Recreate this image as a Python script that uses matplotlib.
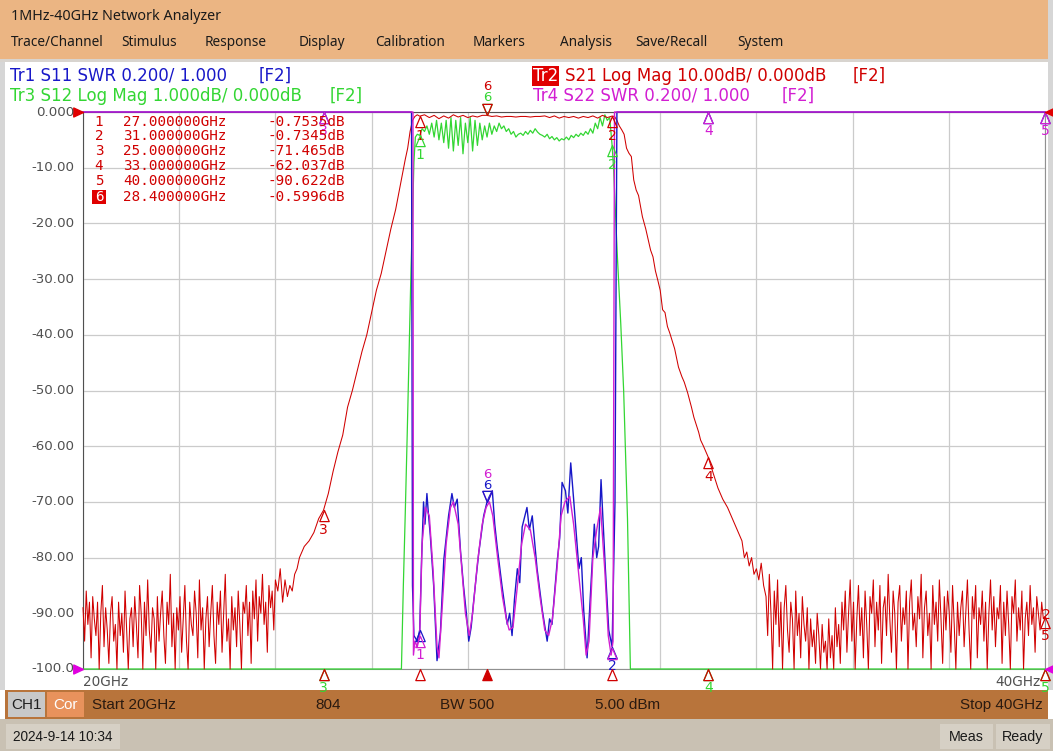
import numpy as np
import matplotlib
matplotlib.use("Agg")
import matplotlib.pyplot as plt
from matplotlib.patches import Rectangle
from matplotlib.path import Path

# ---------------- data ----------------
start_ghz, stop_ghz = 20.0, 40.0
x_grid = [20, 22, 24, 26, 28, 30, 32, 34, 36, 38, 40]
y_ticks = [0, -10, -20, -30, -40, -50, -60, -70, -80, -90, -100]
y_tick_labels = ["0.000", "-10.00", "-20.00", "-30.00", "-40.00", "-50.00",
                 "-60.00", "-70.00", "-80.00", "-90.00", "-100.0"]

# Tr2 S21 (dB) - noise floor below the band (20 .. 24 GHz)
s21_noise_lo = [
    -89, -95, -86, -92, -88, -98, -87, -91, -94, -88,
    -100, -90, -85, -96, -89, -93, -99, -90, -87, -95,
    -92, -101, -88, -94, -90, -97, -86, -93, -100, -91,
    -89, -96, -87, -92, -98, -85, -90, -101, -88, -94,
    -84, -93, -97, -89, -91, -100, -87, -95, -90, -86,
    -94, -99, -88, -92, -83, -96, -90, -101, -89, -93,
    -87, -97, -91, -85, -95, -100, -88, -92, -94, -86,
    -90, -98, -84, -93, -89, -101, -91, -87, -96, -90,
    -85, -94, -99, -88, -92, -86, -97, -90, -83, -95,
    -91, -100, -87, -93, -89, -96, -86, -92, -101, -88,
    -90, -85, -94, -88, -99, -86, -91, -84, -95, -87,
    -90, -83, -92, -88, -97, -85, -89, -86, -93, -84]
s21_skirt_lo_f = [24.05, 24.1, 24.15, 24.2, 24.25, 24.3, 24.35, 24.4, 24.45, 24.5,
                  24.6, 24.7, 24.8, 24.9, 25.0, 25.1, 25.2, 25.3, 25.4, 25.5,
                  25.6, 25.7, 25.8, 25.9, 26.0, 26.1, 26.2, 26.3, 26.4, 26.5,
                  26.6, 26.7, 26.75, 26.8, 26.85, 26.9, 26.95]
s21_skirt_lo_db = [-86, -82, -88, -84, -87, -85, -86, -83, -82, -80,
                   -78, -77, -75.5, -73, -71.5, -68.5, -64.5, -61, -58, -53,
                   -50, -46.5, -43, -40, -36, -32, -29, -25, -21, -17.5,
                   -13, -8.5, -6.5, -3.5, -1.5, -0.8, -0.5]
# pass band 27.0 .. 31.0 GHz, 0.1 GHz steps
s21_pass_db = [-0.75, -0.5, -1.0, -0.6, -1.2, -0.7, -1.1, -0.5, -0.9, -0.6,
               -1.0, -0.7, -0.9, -0.6, -0.6, -0.8, -0.7, -0.9, -0.8, -0.8,
               -0.9, -0.8, -0.8, -0.9, -0.8, -0.8, -0.7, -1.0, -0.7, -1.1,
               -0.8, -1.0, -0.8, -1.1, -0.8, -1.0, -0.7, -1.1, -0.6, -1.0,
               -0.73]
s21_skirt_hi_f = [31.05, 31.1, 31.15, 31.2, 31.25, 31.3, 31.35, 31.4, 31.45, 31.5,
                  31.55, 31.63, 31.7, 31.8, 31.85, 31.9, 31.95, 32.0, 32.05, 32.1,
                  32.15, 32.2, 32.3, 32.38, 32.45, 32.5, 32.57, 32.65, 32.7, 32.8,
                  32.84, 32.9, 33.0, 33.1, 33.2, 33.3, 33.4, 33.5, 33.6, 33.7,
                  33.75, 33.8, 33.85, 33.9, 33.95, 34.0, 34.05, 34.1, 34.15]
s21_skirt_hi_db = [-0.8, -1.5, -2.5, -3.2, -4, -6.5, -7.4, -8, -12.2, -14,
                   -15, -18.8, -21, -24.8, -26, -28.5, -30.2, -32, -35.5, -36,
                   -38.5, -39.7, -42.5, -45.8, -47.5, -48.5, -50.4, -53, -54.8, -57.5,
                   -58.9, -60, -62.0, -64.8, -67.5, -69.5, -71, -73, -75, -77,
                   -80, -79, -81.5, -80, -83, -82, -84, -81, -85]
# noise floor above the band (34.2 .. 40 GHz)
s21_noise_hi = [
    -87, -94, -83, -90, -100, -86, -92, -84, -96, -88,
    -101, -89, -85, -93, -97, -88, -91, -100, -86, -94,
    -90, -98, -87, -92, -95, -89, -101, -91, -96, -93,
    -99, -90, -94, -101, -92, -97, -95, -100, -91, -98,
    -94, -101, -89, -96, -92, -99, -88, -93, -86, -97,
    -90, -84, -95, -88, -101, -91, -85, -94, -89, -98,
    -86, -92, -100, -87, -90, -84, -96, -88, -93, -85,
    -99, -89, -87, -94, -83, -91, -97, -86, -90, -101,
    -88, -85, -95, -89, -92, -86, -100, -88, -84, -93,
    -90, -96, -87, -91, -83, -98, -89, -86, -94, -90,
    -101, -85, -92, -88, -95, -84, -91, -99, -87, -93,
    -86, -90, -97, -85, -92, -101, -88, -94, -89, -86,
    -96, -90, -84, -93, -100, -87, -91, -85, -98, -89,
    -92, -86, -95, -88, -101, -90, -84, -93, -87, -96,
    -89, -91, -85, -99, -88, -94, -86, -92, -100, -87,
    -90, -84, -95, -89, -93, -86, -101, -91, -88, -94,
    -85, -92, -89, -97, -87, -90, -93, -88, -91, -90.6]

# Tr3 S12 (dB, 1 dB/div)
s12_lo_f = [20.0, 26.55, 26.62, 26.66, 26.70, 26.74, 26.78, 26.82, 26.85, 26.88, 26.91, 26.95]
s12_lo_db = [-15, -15, -10, -8.5, -7.2, -5.8, -4.3, -2.8, -1.9, -0.9, -0.45, -0.4]
s12_pass_db = [  # 27.0 .. 31.0 GHz, 0.05 GHz steps
    -0.42, -0.3, -0.35, -0.25, -0.4, -0.2, -0.45, -0.15, -0.5, -0.2, -0.55,
    -0.15, -0.65, -0.1, -0.7, -0.15, -0.6, -0.1, -0.75, -0.2, -0.55,
    -0.1, -0.7, -0.15, -0.6, -0.2, -0.5, -0.25, -0.45, -0.2, -0.4,
    -0.25, -0.35, -0.2, -0.3, -0.25, -0.35, -0.3, -0.4, -0.35, -0.45,
    -0.4, -0.38, -0.42, -0.35, -0.4, -0.33, -0.38, -0.3, -0.36, -0.4,
    -0.42, -0.45, -0.4, -0.48, -0.44, -0.5, -0.46, -0.52, -0.48, -0.5,
    -0.45, -0.5, -0.42, -0.46, -0.4, -0.44, -0.38, -0.42, -0.35, -0.4,
    -0.3, -0.38, -0.2, -0.3, -0.1, -0.25, -0.05, -0.15, -0.1, -0.6]
s12_hi_f = [31.03, 31.07, 31.11, 31.18, 31.24, 31.32, 31.38, 31.45, 40.0]
s12_hi_db = [-1.0, -1.8, -2.6, -3.8, -5.0, -7.3, -10, -15, -15]

# Tr1 S11 (SWR)
s11_f = [20.0, 26.83, 26.85, 26.88, 26.95, 27.0, 27.04, 27.08, 27.11, 27.15,
         27.18, 27.22, 27.29, 27.36, 27.43, 27.50, 27.55, 27.60, 27.67, 27.72,
         27.78, 27.85, 27.91, 27.97, 28.02, 28.07, 28.12, 28.18, 28.23, 28.33,
         28.40, 28.45, 28.51, 28.56, 28.61, 28.71, 28.82, 28.87, 28.92, 28.97,
         29.03, 29.08, 29.13, 29.23, 29.28, 29.34, 29.44, 29.55, 29.65, 29.70,
         29.75, 29.86, 29.91, 29.96, 30.03, 30.08, 30.14, 30.20, 30.31, 30.36,
         30.41, 30.48, 30.55, 30.63, 30.68, 30.72, 30.77, 30.86, 30.93, 31.00,
         31.06, 31.10, 40.0]
s11_swr = [3.5, 3.5, 1.30, 1.12, 1.10, 1.14, 1.40, 1.60, 1.52, 1.63,
           1.56, 1.48, 1.30, 1.03, 1.13, 1.39, 1.47, 1.55, 1.63, 1.58,
           1.61, 1.42, 1.30, 1.20, 1.10, 1.15, 1.24, 1.34, 1.42, 1.55,
           1.60, 1.62, 1.64, 1.52, 1.44, 1.30, 1.16, 1.20, 1.12, 1.25,
           1.36, 1.31, 1.51, 1.58, 1.50, 1.55, 1.36, 1.21, 1.10, 1.18,
           1.16, 1.39, 1.47, 1.67, 1.64, 1.56, 1.74, 1.61, 1.36, 1.40,
           1.21, 1.04, 1.27, 1.52, 1.40, 1.44, 1.68, 1.36, 1.14, 1.08,
           1.6, 3.5, 3.5]

# Tr4 S22 (SWR)
s22_f = [20.0, 26.86, 26.87, 26.90, 26.95, 27.0, 27.05, 27.12, 27.20, 27.28,
         27.36, 27.40, 27.46, 27.55, 27.64, 27.70, 27.80, 27.88, 27.95, 28.03,
         28.10, 28.20, 28.30, 28.38, 28.45, 28.52, 28.62, 28.72, 28.80, 28.86,
         28.94, 29.02, 29.12, 29.20, 29.30, 29.40, 29.50, 29.60, 29.68, 29.76,
         29.85, 29.94, 30.02, 30.12, 30.20, 30.30, 30.40, 30.46, 30.52, 30.60,
         30.68, 30.76, 30.85, 30.92, 30.98, 31.02, 31.05, 40.0]
s22_swr = [3.5, 3.5, 1.05, 1.10, 1.08, 1.12, 1.45, 1.58, 1.55, 1.35,
           1.08, 1.04, 1.20, 1.45, 1.58, 1.60, 1.52, 1.35, 1.20, 1.12,
           1.20, 1.38, 1.52, 1.58, 1.60, 1.55, 1.40, 1.26, 1.18, 1.14,
           1.15, 1.28, 1.45, 1.52, 1.50, 1.40, 1.26, 1.14, 1.12, 1.18,
           1.35, 1.55, 1.60, 1.62, 1.52, 1.35, 1.18, 1.05, 1.10, 1.40,
           1.50, 1.58, 1.35, 1.12, 1.05, 1.10, 3.5, 3.5]

# marker table (Tr2)
marker_ids = ["1", "2", "3", "4", "5", "6"]
marker_ghz = [27.0, 31.0, 25.0, 33.0, 40.0, 28.4]
marker_freq_txt = ["27.000000GHz", "31.000000GHz", "25.000000GHz",
                   "33.000000GHz", "40.000000GHz", "28.400000GHz"]
marker_val_txt = ["-0.7535dB", "-0.7345dB", "-71.465dB", "-62.037dB", "-90.622dB", "-0.5996dB"]

menu_items = ["Trace/Channel", "Stimulus", "Response", "Display", "Calibration",
              "Markers", "Analysis", "Save/Recall", "System"]
menu_x = [11, 121, 205, 299, 375, 473, 560, 635, 737]

# ---------------- helpers ----------------
W, H = 1053, 751
fig = plt.figure(figsize=(W / 100, H / 100), dpi=100)
fig.patch.set_facecolor("white")


def fx(x):
    return x / W


def fy(y):
    return 1 - y / H


def rect(x0, y0, x1, y1, color, z=0, ec="none"):
    fig.add_artist(Rectangle((fx(x0), fy(y1)), (x1 - x0) / W, (y1 - y0) / H,
                             transform=fig.transFigure, facecolor=color,
                             edgecolor=ec, lw=0.6, zorder=z))


def ptext(x, y, s, **kw):
    kw.setdefault("va", "center")
    fig.text(fx(x), fy(y), s, **kw)


RED = "#D00000"
GREEN = "#33D633"
BLUE = "#1818C8"
MAG = "#D21ED2"
UIFONT = ["Noto Sans", "DejaVu Sans"]
NARROW = ["Liberation Sans Narrow", "Liberation Sans", "DejaVu Sans"]

# ---------------- window chrome ----------------
rect(0, 0, W, 59, "#EBB583")
rect(0, 59, W, 62, "#D8D4CF")
rect(0, 62, 5, 690, "#D6D6D6")
rect(1048, 0, W, 690, "#D6D6D6")
ptext(11, 16, "1MHz-40GHz Network Analyzer", fontsize=10.3, family=UIFONT, color="#1A1A1A")
for m, mx in zip(menu_items, menu_x):
    ptext(mx, 43, m, fontsize=9.8, family=UIFONT, color="#1A1A1A")

# trace header
HF = 12
ptext(10, 76, "Tr1 S11 SWR 0.200/ 1.000", fontsize=HF, color=BLUE)
ptext(259, 76, "[F2]", fontsize=HF, color=BLUE)
ptext(10, 96, "Tr3 S12 Log Mag 1.000dB/ 0.000dB", fontsize=HF, color=GREEN)
ptext(330, 96, "[F2]", fontsize=HF, color=GREEN)
ptext(533, 76, "Tr2", fontsize=HF, color="white",
      bbox=dict(facecolor="#E00000", edgecolor="none", pad=0.6))
ptext(565, 76, "S21 Log Mag 10.00dB/ 0.000dB", fontsize=HF, color=RED)
ptext(853, 76, "[F2]", fontsize=HF, color=RED)
ptext(533, 96, "Tr4 S22 SWR 0.200/ 1.000", fontsize=HF, color=MAG)
ptext(782, 96, "[F2]", fontsize=HF, color=MAG)

# status bars
rect(5, 690, 1048, 719, "#B8743B")
rect(8, 692, 45, 717, "#C8C8C8")
rect(47, 692, 84, 717, "#E8925C")
ptext(26, 705, "CH1", fontsize=11, family=NARROW, color="#202020", ha="center")
ptext(65, 705, "Cor", fontsize=11, family=NARROW, color="white", ha="center")
ptext(92, 705, "Start 20GHz", fontsize=11, family=NARROW, color="#2A1A10")
ptext(315, 705, "804", fontsize=11, family=NARROW, color="#2A1A10")
ptext(440, 705, "BW 500", fontsize=11, family=NARROW, color="#2A1A10")
ptext(595, 705, "5.00 dBm", fontsize=11, family=NARROW, color="#2A1A10")
ptext(1043, 705, "Stop 40GHz", fontsize=11, family=NARROW, color="#2A1A10", ha="right")
rect(0, 719, W, H, "#C9C1B3")
rect(6, 724, 120, 749, "#D6D0C5")
rect(940, 724, 993, 749, "#D6D0C5")
rect(996, 724, 1050, 749, "#D6D0C5")
ptext(13, 737, "2024-9-14 10:34", fontsize=9.8, family=NARROW, color="#1A1A1A")
ptext(966, 737, "Meas", fontsize=10.3, family=NARROW, color="#1A1A1A", ha="center")
ptext(1023, 737, "Ready", fontsize=10.3, family=NARROW, color="#1A1A1A", ha="center")

# ---------------- plot ----------------
X0, X1, Y0, Y1 = 83, 1045, 112, 669
ax = fig.add_axes([fx(X0), fy(Y1), (X1 - X0) / W, (Y1 - Y0) / H])
ax.set_xlim(start_ghz, stop_ghz)
ax.set_ylim(-100, 0)
ax.set_xticks(x_grid)
ax.set_yticks(y_ticks)
ax.grid(True, color="#CBCBCB", lw=0.9)
ax.tick_params(length=0, labelbottom=False, labelleft=False)
ax.set_facecolor("white")
for s in ["left", "top"]:
    ax.spines[s].set_color("#505050")
    ax.spines[s].set_linewidth(0.8)
for s in ["right", "bottom"]:
    ax.spines[s].set_color("#909090")
    ax.spines[s].set_linewidth(0.8)

for t, lab in zip(y_ticks, y_tick_labels):
    yp = Y0 + (0 - t) / 100 * (Y1 - Y0)
    ptext(74, yp, lab, fontsize=9.6, color="#505050", ha="right")
ptext(83, 682, "20GHz", fontsize=9.8, color="#505050")
ptext(1041, 682, "40GHz", fontsize=9.8, color="#505050", ha="right")


def swr_disp(v):
    return np.clip((np.asarray(v, float) - 1.0) / 0.2 * 10.0 - 100.0, -100, 0)


def s12_disp(v):
    return np.clip(np.asarray(v, float) * 10.0, -100, 0)


# build S21
s21_f = np.concatenate([np.linspace(20.0, 24.0, len(s21_noise_lo)), s21_skirt_lo_f,
                        np.linspace(27.0, 31.0, len(s21_pass_db)), s21_skirt_hi_f,
                        np.linspace(34.2, 40.0, len(s21_noise_hi))])
s21_d = np.clip(np.concatenate([s21_noise_lo, s21_skirt_lo_db, s21_pass_db,
                                s21_skirt_hi_db, s21_noise_hi]), -100, 0)
s12_f = np.concatenate([s12_lo_f, np.linspace(27.0, 31.0, len(s12_pass_db)), s12_hi_f])
s12_d = s12_disp(np.concatenate([s12_lo_db, s12_pass_db, s12_hi_db]))
s11_d = swr_disp(s11_swr)
s22_d = swr_disp(s22_swr)

ax.plot(s12_f, s12_d, color=GREEN, lw=0.9, clip_on=False, zorder=3)
ax.plot(s21_f, s21_d, color=RED, lw=0.75, clip_on=False, zorder=4)
ax.plot(s11_f, s11_d, color=BLUE, lw=1.0, clip_on=False, zorder=5)
ax.plot(s22_f, s22_d, color=MAG, lw=1.0, clip_on=False, zorder=6)

# marker glyphs
up_tri = Path([(0, 0), (-0.55, -1.3), (0.55, -1.3), (0, 0)],
              [Path.MOVETO, Path.LINETO, Path.LINETO, Path.CLOSEPOLY])
dn_tri = Path([(0, 0), (-0.55, 1.3), (0.55, 1.3), (0, 0)],
              [Path.MOVETO, Path.LINETO, Path.LINETO, Path.CLOSEPOLY])
right_tri = Path([(0, 0), (-1.3, 0.6), (-1.3, -0.6), (0, 0)],
                 [Path.MOVETO, Path.LINETO, Path.LINETO, Path.CLOSEPOLY])
left_tri = Path([(0, 0), (1.3, 0.6), (1.3, -0.6), (0, 0)],
                [Path.MOVETO, Path.LINETO, Path.LINETO, Path.CLOSEPOLY])


def marker(f, y, label, color, active=False, fill=False, lab_off=14, fs=10):
    path = dn_tri if active else up_tri
    ax.plot([f], [y], marker=path, ms=16, mfc=color if fill else "none", mec=color,
            mew=0.9, ls="none", clip_on=False, zorder=8)
    if label:
        off = lab_off if active else -lab_off
        ax.annotate(label, (f, y), xytext=(0, off), textcoords="offset points",
                    ha="center", va="center", fontsize=fs, color=color,
                    annotation_clip=False, zorder=8)


# S21 / S12 markers (active marker 6 drawn stacked above the trace)
for mid, mf in zip(marker_ids, marker_ghz):
    y21 = float(np.interp(mf, s21_f, s21_d))
    y12 = float(np.interp(mf, s12_f, s12_d))
    if mid == "6":
        marker(mf, y21, mid, GREEN, active=True, lab_off=12.5, fs=9.5)
        marker(mf, y21, mid, RED, active=True, lab_off=21, fs=9.5)
    else:
        marker(mf, y21, mid, RED)
        marker(mf, y12, mid, GREEN)

# S11 / S22 markers: where both sit together only one number is shown
swr_label_on_blue = {"2"}
for mid, mf in zip(marker_ids, marker_ghz):
    y11 = float(np.interp(mf, s11_f, s11_d))
    y22 = float(np.interp(mf, s22_f, s22_d))
    if mid == "6":
        marker(mf, y11, mid, MAG, active=True, lab_off=20, fs=9.5)
        marker(mf, y11, mid, BLUE, active=True, lab_off=12, fs=9.5)
    else:
        blue_lab = mid if mid in swr_label_on_blue else None
        mag_lab = None if mid in swr_label_on_blue else mid
        marker(mf, y11, blue_lab, BLUE)
        marker(mf, y22, mag_lab, MAG)

# stimulus indicators under the x axis
for mid, mf in zip(marker_ids, marker_ghz):
    ax.plot([mf], [-100], marker=up_tri, ms=16, mfc=RED if mid == "6" else "none",
            mec=RED, mew=0.9, ls="none", clip_on=False, zorder=9)

# reference position arrows
ax.plot([start_ghz], [0], marker=right_tri, ms=14, color="#E00000", ls="none", clip_on=False, zorder=9)
ax.plot([start_ghz], [-100], marker=right_tri, ms=14, color="#E000E0", ls="none", clip_on=False, zorder=9)
ax.plot([stop_ghz], [0], marker=left_tri, ms=12, color="#E00000", ls="none", clip_on=False, zorder=9)
ax.plot([stop_ghz], [-100], marker=left_tri, ms=12, color="#E000E0", ls="none", clip_on=False, zorder=9)

# marker readout table
rows_y = [122, 136, 151, 166, 181, 197]
for mid, ft, vt, ry in zip(marker_ids, marker_freq_txt, marker_val_txt, rows_y):
    if mid == "6":
        rect(92, ry - 7, 106, ry + 7, "#E00000", z=10)
        ptext(99, ry, mid, fontsize=10.3, family="DejaVu Sans Mono", color="white", ha="center", zorder=11)
    else:
        ptext(99, ry, mid, fontsize=10.3, family="DejaVu Sans Mono", color=RED, ha="center", zorder=11)
    ptext(123, ry, ft, fontsize=10.3, family="DejaVu Sans Mono", color=RED, zorder=11)
    ptext(345, ry, vt, fontsize=10.3, family="DejaVu Sans Mono", color=RED, ha="right", zorder=11)

ptext(1046, 615, "2", fontsize=10, color=RED, ha="center")

fig.savefig("out.png", dpi=100, facecolor=fig.get_facecolor())
